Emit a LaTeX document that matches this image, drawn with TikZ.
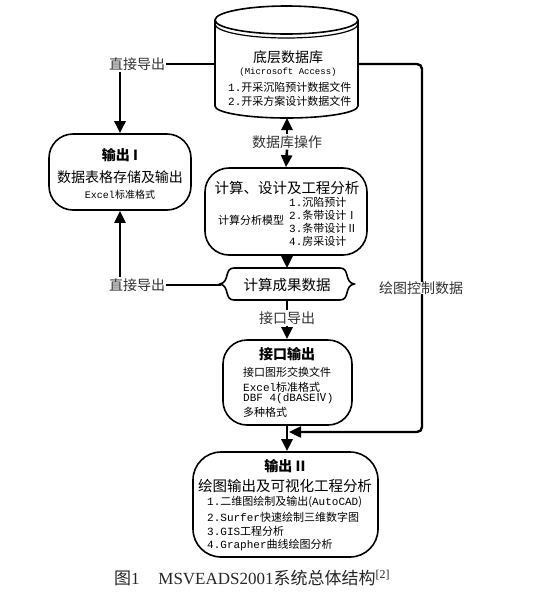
\documentclass[tikz,border=0pt]{standalone}
\usepackage{fontspec}
\setmainfont{Liberation Serif}
\setmonofont{Liberation Mono}
\newfontfamily\cjk{Noto Sans CJK SC}
\usetikzlibrary{arrows.meta}
\newcommand\myfs[1]{\fontsize{#1}{#1}\selectfont}
\begin{document}
\begin{tikzpicture}[x=1pt,y=-1pt,
  box/.style={draw, line width=1.6pt, rounded corners=24pt},
  arr/.style={line width=2.6pt, -{Triangle[length=12pt,width=11pt]}},
  ln/.style={line width=2.6pt},
  lab/.style={font=\cjk\myfs{14}, text=black!80, inner sep=1pt},
  ttl/.style={font=\cjk\bfseries\myfs{14}, inner sep=0pt},
  big/.style={font=\cjk\myfs{14.5}, inner sep=0pt},
  sml/.style={font=\cjk\myfs{11}, inner sep=0pt, anchor=west},
  smc/.style={font=\cjk\myfs{11}, inner sep=0pt}]
\useasboundingbox[fill=white] (0,0) rectangle (533,598);

% database cylinder
\draw[line width=1.6pt, fill=white] (215,20) -- (215,106) arc[start angle=180,end angle=360,x radius=71.5,y radius=-12] -- (358,20);
\draw[line width=1.6pt] (286.5,20) ellipse[x radius=71.5, y radius=14];
\draw[line width=1.2pt] (215,24) arc[start angle=180,end angle=360,x radius=71.5,y radius=-14];
\coordinate (dbL) at (215,64);
\coordinate (dbR) at (358,64);
\coordinate (dbB) at (287,118);
\node[font=\cjk\myfs{14}, inner sep=0pt] (dbt) at (288,57) {底层数据库};
\node[font=\ttfamily\myfs{9}, inner sep=0pt] (dbs) at (288,72) {(Microsoft Access)};
\node[sml] (db1) at (228,87) {{\ttfamily 1.}开采沉陷预计数据文件};
\node[sml] (db2) at (228,101) {{\ttfamily 2.}开采方案设计数据文件};

% output I
\node[box, minimum width=142, minimum height=76] (out1) at (120,172) {};
\node[ttl] (o1t) at (120,155) {输出 I};
\node[font=\cjk\myfs{14}, inner sep=0pt] (o1a) at (120,177) {数据表格存储及输出};
\node[font=\cjk\myfs{10}, inner sep=0pt] (o1b) at (120,195) {{\ttfamily Excel}标准格式};

% calc box
\node[box, minimum width=162, minimum height=87] (calc) at (286,211.5) {};
\node[big] (ct) at (287,188) {计算、设计及工程分析};
\node[smc] (cm) at (251,220) {计算分析模型};
\node[sml] (c1) at (289,202) {{\ttfamily 1.}沉陷预计};
\node[sml] (c2) at (289,215) {{\ttfamily 2.}条带设计Ⅰ};
\node[sml] (c3) at (289,228) {{\ttfamily 3.}条带设计Ⅱ};
\node[sml] (c4) at (289,241) {{\ttfamily 4.}房采设计};

% cloud
\draw[line width=1.6pt] (234,268) -- (340,268)
  .. controls (350,268) and (344,282) .. (354,284)
  .. controls (344,286) and (350,300) .. (340,300)
  -- (234,300)
  .. controls (224,300) and (230,286) .. (220,284)
  .. controls (230,282) and (224,268) .. (234,268) -- cycle;
\coordinate (clT) at (287,268);
\coordinate (clB) at (287,300);
\coordinate (clL) at (221,285);
\node[font=\cjk\myfs{14.5}, inner sep=0pt] (cl) at (287,285) {计算成果数据};

% interface box
\node[box, minimum width=129, minimum height=85] (jk) at (287.5,382.5) {};
\node[ttl] (jkt) at (287,354) {接口输出};
\node[sml] (j1) at (243,372) {接口图形交换文件};
\node[sml] (j2) at (243,387) {{\ttfamily Excel}标准格式};
\node[sml] (j3) at (243,399) {{\ttfamily DBF 4(dBASE}Ⅳ{\ttfamily )}};
\node[sml] (j4) at (243,412) {多种格式};

% output II
\node[box, rounded corners=28pt, minimum width=185, minimum height=105] (out2) at (285.5,504.5) {};
\node[ttl] (o2t) at (285,466) {输出 II};
\node[big] (o2a) at (285,486) {绘图输出及可视化工程分析};
\node[sml] (o21) at (207,502) {{\ttfamily 1.}二维图绘制及输出({\ttfamily AutoCAD})};
\node[sml] (o22) at (207,517) {{\ttfamily 2.Surfer}快速绘制三维数字图};
\node[sml] (o23) at (207,531) {{\ttfamily 3.GIS}工程分析};
\node[sml] (o24) at (207,545) {{\ttfamily 4.Grapher}曲线绘图分析};

% labels
\node[lab] (l1) at (137,64) {直接导出};
\node[lab] (l2) at (137,285) {直接导出};
\node[lab] (l3) at (287,142) {数据库操作};
\node[lab] (l4) at (287,318) {接口导出};

% connectors
\draw[ln] (dbL) -- (l1.east);
\draw[arr] (l1.south -| out1.north) -- (out1.north);
\draw[ln] (clL) -- (l2.east);
\draw[arr] (l2.north -| out1.south) -- (out1.south);
\draw[arr] (l3.north) -- (dbB);
\draw[arr] (l3.south) -- (calc.north);
\draw[arr] (calc.south -| clT) -- (clT);
\draw[ln] (clB) -- (l4.north);
\draw[arr] (l4.south) -- (l4.south |- jk.north);
\draw[arr] (l4.south |- jk.south) -- (l4.south |- out2.north);
\coordinate (rc1) at (422,64);
\coordinate (rc2) at (422,432);
\coordinate (rend) at (289,432);
\draw[line width=2.4pt, rounded corners=5pt, -{Triangle[length=12pt,width=11pt]}] (dbR) -- (rc1) -- (rc2) -- (rend);
\node[lab, fill=white, inner sep=0pt] (l5) at (421,288) {绘图控制数据};

% caption
\node[font=\myfs{17}, text=black!85, inner sep=0pt, anchor=west] (cap) at (114,578) {{\cjk 图}1\hspace{1.1em}MSVEADS2001{\cjk 系统总体结构}\textsuperscript{[2]}};
\end{tikzpicture}
\end{document}
